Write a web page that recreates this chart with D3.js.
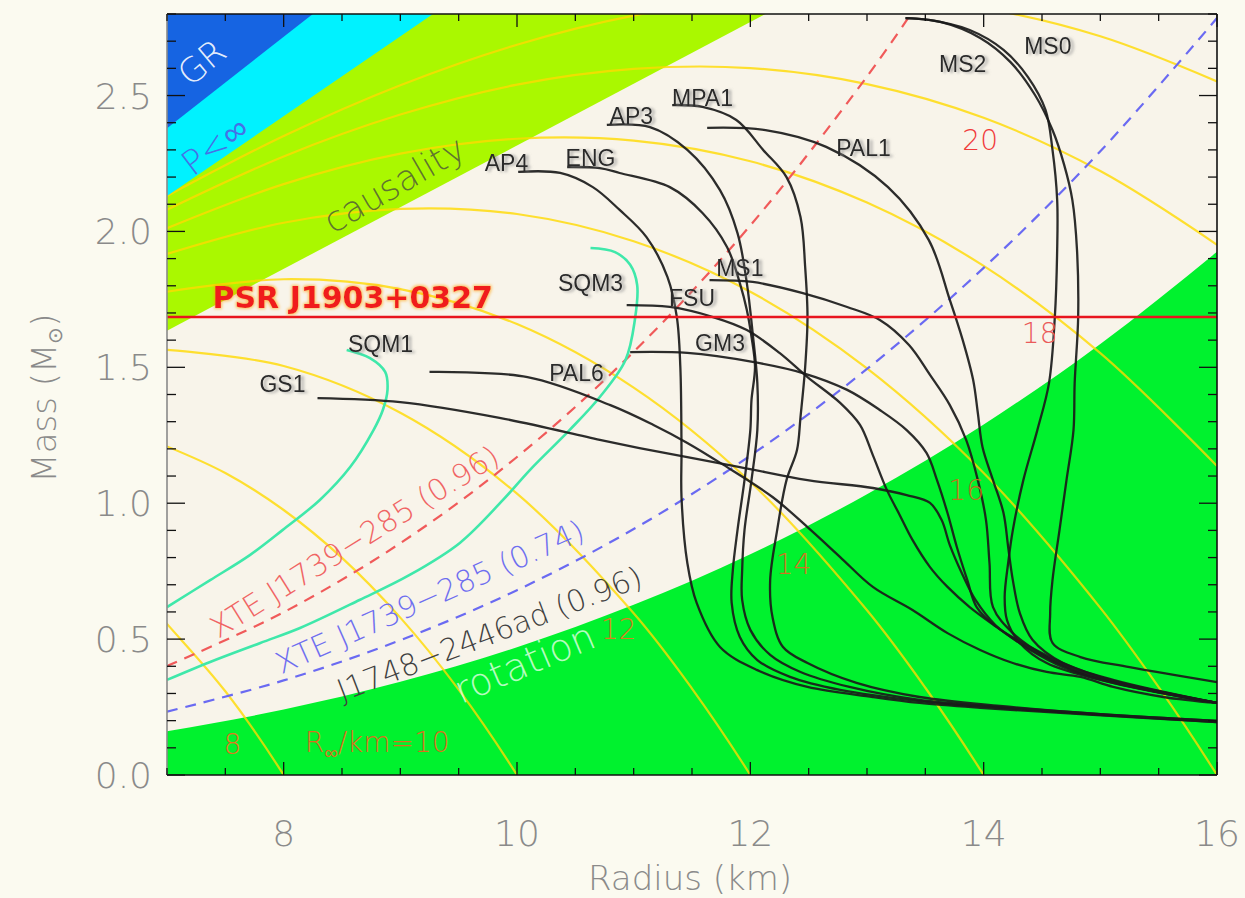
<!DOCTYPE html>
<html>
<head>
<meta charset="utf-8">
<script src="https://cdn.jsdelivr.net/npm/d3@7"></script>
<style>
  html, body { margin: 0; padding: 0; background: #fbfaf0; }
  svg { display: block; }
</style>
</head>
<body>
<svg id="chart" width="1245" height="898"></svg>
<script>
// ---------------- data ----------------
const radiusTicks = [8, 10, 12, 14, 16];
const massTicks = [0, 0.5, 1.0, 1.5, 2.0, 2.5];

// excluded regions, boundaries as [radius km, mass Msun]
const grLimit = [[7, 2.38], [8.25, 2.8]];
const finitePressureLimit = [[7, 2.13], [9.28, 2.8]];
const causalityLimit = [[7, 1.635], [12.13, 2.8]];
const rotationLimit = [[7, 0.161], [8, 0.241], [9, 0.343], [10, 0.470], [11, 0.626], [12, 0.812], [13, 1.033], [14, 1.290], [15, 1.586], [16, 1.925]];

// spin limits
const xteSpin096 = [[7, 0.401], [8, 0.599], [9, 0.853], [10, 1.170], [11, 1.557], [12, 2.022], [13, 2.570], [13.4, 2.815]];
const xteSpin074 = [[7, 0.233], [8, 0.348], [9, 0.496], [10, 0.680], [11, 0.905], [12, 1.175], [13, 1.494], [14, 1.866], [15, 2.295], [16, 2.785]];

// pulsar mass
const psrMass = 1.685;

// lines of constant R_inf (km)
const rInf8 = [[6.5, 0.795], [7, 0.556], [7.5, 0.308], [8, 0], [8.5, -0.371]];
const rInf10 = [[7, 1.209], [7.5, 1.111], [8, 0.975], [8.5, 0.799], [9, 0.579], [9.5, 0.314], [10, 0], [10.5, -0.364]];
const rInf12 = [[7, 1.564], [8, 1.505], [9, 1.333], [10, 1.035], [11, 0.595], [11.5, 0.318], [12, 0], [12.5, -0.360]];
const rInf14 = [[7, 1.778], [8, 1.824], [9, 1.788], [10, 1.659], [11, 1.425], [12, 1.078], [13, 0.606], [13.5, 0.321], [14, 0], [14.5, -0.357]];
const rInf16 = [[7, 1.917], [8, 2.032], [9, 2.083], [10, 2.064], [11, 1.964], [12, 1.778], [13, 1.496], [14, 1.111], [15, 0.615], [15.5, 0.323], [16, 0], [16.5, -0.355]];
const rInf18 = [[7, 2.012], [8, 2.174], [9, 2.286], [10, 2.341], [11, 2.334], [12, 2.258], [13, 2.106], [14, 1.873], [15, 1.552], [16, 1.137]];
const rInf20 = [[7, 2.080], [8, 2.276], [9, 2.430], [10, 2.540], [11, 2.598], [12, 2.601], [13, 2.542], [14, 2.418], [15, 2.222], [16, 1.951]];
const rInf22 = [[7, 2.130], [8, 2.351], [9, 2.538], [10, 2.687], [11, 2.794], [12, 2.855], [13, 2.865], [14, 2.821], [15, 2.718], [16, 2.552]];

// mass-radius relations
const AP4 = [[10.01, 2.219], [10.37, 2.215], [10.65, 2.163], [10.88, 2.079], [11.11, 1.979], [11.29, 1.832], [11.37, 1.685], [11.40, 1.501], [11.41, 1.196], [11.41, 1.023], [11.46, 0.780], [11.54, 0.633], [11.74, 0.471], [12.06, 0.386], [12.49, 0.324], [13.05, 0.287], [13.45, 0.265], [13.97, 0.247], [14.83, 0.224], [16.0, 0.195]];
const ENG = [[10.43, 2.237], [10.71, 2.233], [10.88, 2.215], [11.31, 2.163], [11.59, 2.068], [11.80, 1.943], [11.91, 1.810], [11.97, 1.711], [12.01, 1.612], [12.04, 1.501], [12.01, 1.380], [12.00, 1.269], [11.95, 1.085], [11.89, 0.901], [11.85, 0.754], [11.84, 0.633], [11.91, 0.508], [12.06, 0.423], [12.34, 0.361], [12.77, 0.313], [13.45, 0.272], [14.14, 0.247], [15.00, 0.221], [16.0, 0.195]];
const AP3 = [[10.77, 2.392], [11.14, 2.384], [11.46, 2.300], [11.74, 2.152], [11.89, 1.994], [11.97, 1.810], [12.02, 1.626], [12.06, 1.442], [12.06, 1.269], [12.01, 1.085], [11.95, 0.901], [11.93, 0.754], [11.93, 0.644], [12.00, 0.534], [12.17, 0.442], [12.43, 0.379], [12.85, 0.324], [13.45, 0.276], [14.14, 0.250], [15.00, 0.224], [16.0, 0.199]];
const MPA1 = [[11.33, 2.465], [11.59, 2.458], [11.88, 2.410], [12.11, 2.300], [12.31, 2.200], [12.43, 2.053], [12.47, 1.869], [12.49, 1.685], [12.47, 1.501], [12.43, 1.317], [12.40, 1.196], [12.31, 1.085], [12.23, 0.901], [12.17, 0.717], [12.19, 0.581], [12.28, 0.471], [12.49, 0.412], [12.91, 0.339], [13.45, 0.287], [14.14, 0.254], [15.00, 0.224], [16.0, 0.199]];
const PAL1 = [[11.63, 2.381], [12.13, 2.373], [12.65, 2.311], [13.18, 2.163], [13.53, 1.968], [13.71, 1.748], [13.82, 1.601], [13.91, 1.453], [13.95, 1.332], [13.99, 1.207], [14.08, 1.085], [14.17, 0.964], [14.21, 0.839], [14.25, 0.717], [14.31, 0.596], [14.42, 0.497], [14.68, 0.412], [15.11, 0.350], [16.0, 0.265]];
const MS1 = [[11.65, 1.821], [12.02, 1.814], [12.45, 1.773], [12.83, 1.722], [13.11, 1.674], [13.36, 1.582], [13.54, 1.472], [13.71, 1.361], [13.85, 1.233], [13.95, 1.085], [14.02, 0.938], [14.05, 0.780], [14.08, 0.618], [14.25, 0.522], [14.54, 0.434], [14.83, 0.375], [15.40, 0.313], [16.0, 0.265]];
const FSU = [[10.94, 1.729], [11.31, 1.722], [11.68, 1.685], [11.97, 1.637], [12.25, 1.553], [12.49, 1.464], [12.77, 1.369], [12.94, 1.288], [13.05, 1.177], [13.17, 1.049], [13.28, 0.957], [13.39, 0.865], [13.54, 0.765], [13.69, 0.692], [13.88, 0.618], [14.11, 0.545], [14.40, 0.460], [14.68, 0.397], [15.11, 0.339], [16.0, 0.265]];
const GM3 = [[10.97, 1.556], [11.46, 1.553], [12.02, 1.520], [12.45, 1.479], [12.83, 1.417], [13.11, 1.343], [13.34, 1.269], [13.51, 1.185], [13.60, 1.085], [13.69, 0.964], [13.77, 0.839], [13.86, 0.717], [13.94, 0.618], [14.11, 0.545], [14.40, 0.471], [14.68, 0.412], [15.11, 0.346], [16.0, 0.265]];
const GS1 = [[8.29, 1.387], [9.00, 1.372], [9.85, 1.314], [10.71, 1.233], [11.05, 1.203], [11.91, 1.133], [12.49, 1.085], [13.05, 1.056], [13.34, 1.030], [13.54, 1.001], [13.64, 0.938], [13.71, 0.846], [13.82, 0.736], [13.93, 0.644], [14.10, 0.552], [14.31, 0.486], [14.68, 0.405], [15.11, 0.346], [16.0, 0.265]];
const PAL6 = [[9.25, 1.483], [10.09, 1.464], [10.80, 1.361], [11.17, 1.288], [11.46, 1.222], [11.77, 1.141], [12.19, 1.023], [12.49, 0.912], [12.77, 0.802], [13.05, 0.692], [13.39, 0.607], [13.69, 0.522], [13.97, 0.460], [14.25, 0.412], [14.54, 0.379], [14.83, 0.361], [15.11, 0.324], [15.54, 0.287], [16.0, 0.265]];
const MS2 = [[13.33, 2.785], [13.53, 2.778], [13.88, 2.741], [14.17, 2.668], [14.38, 2.568], [14.53, 2.447], [14.59, 2.300], [14.63, 2.116], [14.63, 1.932], [14.61, 1.685], [14.56, 1.442], [14.46, 1.269], [14.34, 1.085], [14.25, 0.901], [14.21, 0.780], [14.18, 0.655], [14.20, 0.570], [14.31, 0.486], [14.54, 0.412], [15.00, 0.350], [16.0, 0.265]];
const MS0 = [[13.33, 2.785], [13.63, 2.771], [13.97, 2.712], [14.23, 2.623], [14.44, 2.502], [14.59, 2.373], [14.69, 2.245], [14.76, 2.116], [14.80, 1.932], [14.81, 1.685], [14.78, 1.442], [14.77, 1.269], [14.71, 1.085], [14.65, 0.901], [14.59, 0.717], [14.57, 0.596], [14.59, 0.486], [14.83, 0.434], [15.25, 0.397], [16.0, 0.342]];
const SQM1 = [[8.54, 1.564], [8.74, 1.534], [8.87, 1.483], [8.89, 1.417], [8.85, 1.343], [8.77, 1.269], [8.57, 1.133], [8.31, 1.012], [7.99, 0.901], [7.71, 0.809], [7.37, 0.717], [7.00, 0.618]];
const SQM3 = [[10.63, 1.939], [10.84, 1.924], [10.97, 1.877], [11.03, 1.803], [11.01, 1.674], [10.93, 1.527], [10.71, 1.391], [10.45, 1.269], [10.11, 1.122], [9.88, 1.012], [9.51, 0.854], [9.08, 0.736], [8.65, 0.644], [8.14, 0.541], [7.80, 0.486], [7.37, 0.416], [7.00, 0.350]];

// ---------------- drawing ----------------
const svg = d3.select('#chart');
const W = 1245, H = 898;
const x = d3.scaleLinear().domain([7, 16]).range([167, 1217]);
const y = d3.scaleLinear().domain([0, 2.8]).range([775, 14]);
const thin = "'DejaVu Sans', 'Noto Sans', sans-serif";
const sans = "'Liberation Sans', Arial, sans-serif";

svg.append('rect').attr('width', W).attr('height', H).attr('fill', '#fbfaf0');

const defs = svg.append('defs');
defs.append('clipPath').attr('id', 'plotClip')
  .append('rect').attr('x', x(7)).attr('y', y(2.8))
  .attr('width', x(16) - x(7)).attr('height', y(0) - y(2.8));

// soft grey shadow behind the EOS names
const shadow = defs.append('filter').attr('id', 'labelShadow')
  .attr('x', '-20%').attr('y', '-50%').attr('width', '150%').attr('height', '200%');
shadow.append('feGaussianBlur').attr('in', 'SourceAlpha').attr('stdDeviation', 1.8).attr('result', 'blur');
shadow.append('feOffset').attr('in', 'blur').attr('dx', 3).attr('dy', 1).attr('result', 'off');
shadow.append('feFlood').attr('flood-color', '#8e8e8e').attr('flood-opacity', 0.75).attr('result', 'col');
shadow.append('feComposite').attr('in', 'col').attr('in2', 'off').attr('operator', 'in').attr('result', 'sh');
const sm = shadow.append('feMerge');
sm.append('feMergeNode').attr('in', 'sh');
sm.append('feMergeNode').attr('in', 'SourceGraphic');

// orange glow round the pulsar name
const glow = defs.append('filter').attr('id', 'glow')
  .attr('x', '-10%').attr('y', '-50%').attr('width', '120%').attr('height', '200%');
glow.append('feMorphology').attr('in', 'SourceAlpha').attr('operator', 'dilate').attr('radius', 1.2).attr('result', 'dil');
glow.append('feGaussianBlur').attr('in', 'dil').attr('stdDeviation', 1.6).attr('result', 'blur');
glow.append('feFlood').attr('flood-color', '#ff9c00').attr('flood-opacity', 0.6).attr('result', 'col');
glow.append('feComposite').attr('in', 'col').attr('in2', 'blur').attr('operator', 'in').attr('result', 'gl');
const gm = glow.append('feMerge');
gm.append('feMergeNode').attr('in', 'gl');
gm.append('feMergeNode').attr('in', 'SourceGraphic');

const plot = svg.append('g').attr('clip-path', 'url(#plotClip)');

// plot background
plot.append('rect').attr('x', x(7)).attr('y', y(2.8))
  .attr('width', x(16) - x(7)).attr('height', y(0) - y(2.8)).attr('fill', '#f8f4ea');

const line = d3.line().x(d => x(d[0])).y(d => y(d[1]));
const smooth = d3.line().x(d => x(d[0])).y(d => y(d[1])).curve(d3.curveCatmullRom.alpha(0.5));

// region above a straight boundary, closed through the top-left corner
function upperRegion(b) {
  return line([[b[0][0], b[0][1]], [b[1][0], b[1][1]], [7, 2.8]]);
}

// causality
plot.append('path').attr('d', upperRegion(causalityLimit)).attr('fill', '#aaf800');

// rotation
const rotArea = d3.area().x(d => x(d[0])).y0(y(0)).y1(d => y(d[1])).curve(d3.curveMonotoneX);
plot.append('path').attr('d', rotArea(rotationLimit)).attr('fill', '#00f22e');

// constant R_inf lines
const rInfLines = [rInf8, rInf10, rInf12, rInf14, rInf16, rInf18, rInf20, rInf22];
plot.selectAll('path.rinf').data(rInfLines).join('path')
  .attr('class', 'rinf')
  .attr('d', d => smooth(d))
  .attr('fill', 'none')
  .attr('stroke', '#ffda00')
  .attr('stroke-opacity', 0.8)
  .attr('stroke-width', 2.2);

// finite pressure and GR
plot.append('path').attr('d', upperRegion(finitePressureLimit)).attr('fill', '#00f2ff');
plot.append('path').attr('d', upperRegion(grLimit)).attr('fill', '#1664e2');

// spin limits (dashed)
plot.append('path').attr('d', smooth(xteSpin096)).attr('fill', 'none')
  .attr('stroke', '#f05a5a').attr('stroke-width', 2.2).attr('stroke-dasharray', '11,8');
plot.append('path').attr('d', smooth(xteSpin074)).attr('fill', 'none')
  .attr('stroke', '#6a6af2').attr('stroke-width', 2.2).attr('stroke-dasharray', '11,8');

// strange quark matter stars
plot.selectAll('path.sqm').data([SQM1, SQM3]).join('path')
  .attr('class', 'sqm')
  .attr('d', d => smooth(d))
  .attr('fill', 'none').attr('stroke', '#3fe8aa').attr('stroke-width', 2.6);

// normal matter EOS
const eosList = [AP4, ENG, AP3, MPA1, PAL1, MS1, FSU, GM3, GS1, PAL6, MS2, MS0];
plot.selectAll('path.eos').data(eosList).join('path')
  .attr('class', 'eos')
  .attr('d', d => smooth(d))
  .attr('fill', 'none').attr('stroke', '#1a1a1a').attr('stroke-width', 2.3)
  .attr('stroke-opacity', 0.92);

// pulsar line
plot.append('line')
  .attr('x1', x(7)).attr('x2', x(16)).attr('y1', y(psrMass)).attr('y2', y(psrMass))
  .attr('stroke', '#e8141e').attr('stroke-width', 2.6);

// ---------------- annotations ----------------
const ann = svg.append('g').attr('clip-path', 'url(#plotClip)');

function rotatedText(txt, R, M, angle, size, color, opts = {}) {
  return ann.append('text')
    .attr('transform', `translate(${x(R)},${y(M)}) rotate(${-angle})`)
    .attr('font-family', opts.family || thin)
    .attr('font-weight', opts.weight || 300)
    .attr('font-size', size)
    .attr('fill', color)
    .attr('fill-opacity', opts.opacity == null ? 1 : opts.opacity)
    .text(txt);
}

rotatedText('GR', 7.2, 2.53, 40, 34, '#ffffff', {opacity: 0.9});
rotatedText('P<\u221E', 7.22, 2.20, 37, 34, '#4670e6');
rotatedText('causality', 8.42, 1.99, 30, 35, '#556235', {opacity: 0.9});
rotatedText('rotation', 9.52, 0.26, 23, 38, '#eaffea', {opacity: 0.8});
rotatedText('XTE J1739\u2212285 (0.96)', 7.44, 0.50, 32, 30, '#f06464');
rotatedText('XTE J1739\u2212285 (0.74)', 7.98, 0.37, 24, 30, '#6e6ef0');
rotatedText('J1748\u22122446ad (0.96)', 8.5, 0.27, 21, 30, '#404040');

// constant R_inf labels
function rLabel(txt, R, M, size, color) {
  ann.append('text').attr('x', x(R)).attr('y', y(M))
    .attr('text-anchor', 'middle').attr('font-family', thin).attr('font-weight', 300)
    .attr('font-size', size).attr('fill', color).text(txt);
}
rLabel('8', 7.56, 0.076, 28, '#de7a1e');
rLabel('12', 10.87, 0.50, 28, '#d8801e');
rLabel('14', 12.37, 0.74, 28, '#d27420');
rLabel('16', 13.85, 1.01, 28, '#c0701c');
rLabel('18', 14.48, 1.59, 28, '#ea5a5a');
rLabel('20', 13.97, 2.30, 28, '#f03a3a');
const rlab = ann.append('text').attr('x', x(8.18)).attr('y', y(0.085))
  .attr('font-family', thin).attr('font-weight', 300).attr('font-size', 28).attr('fill', '#dc6e1e');
rlab.append('tspan').text('R');
rlab.append('tspan').attr('font-size', 19).attr('dy', 7).text('\u221E');
rlab.append('tspan').attr('dy', -7).text('/km=10');

// pulsar label
ann.append('text').attr('x', x(7.39)).attr('y', y(1.718))
  .attr('font-family', "'DejaVu Sans', sans-serif").attr('font-weight', 'bold').attr('font-size', 30)
  .attr('fill', '#f01e1e').attr('filter', 'url(#glow)').text('PSR J1903+0327');

// EOS names
const eosNames = ['GS1', 'SQM1', 'PAL6', 'SQM3', 'FSU', 'GM3', 'MS1', 'AP4', 'ENG', 'AP3', 'MPA1', 'PAL1', 'MS2', 'MS0'];
const eosNameAt = [[7.99, 1.409], [8.83, 1.556], [10.51, 1.450], [10.63, 1.781], [11.50, 1.726], [11.74, 1.560], [11.91, 1.836], [9.91, 2.222], [10.63, 2.241], [10.98, 2.395], [11.59, 2.461], [12.97, 2.278], [13.82, 2.587], [14.55, 2.653]];
eosNames.forEach((name, i) => {
  const [R, M] = eosNameAt[i];
  ann.append('text').attr('x', x(R)).attr('y', y(M))
    .attr('text-anchor', 'middle').attr('font-family', sans).attr('font-size', 23)
    .attr('fill', '#2a2a2a').attr('filter', 'url(#labelShadow)').text(name);
});

// ---------------- frame and ticks ----------------
const frame = svg.append('g');
frame.append('line').attr('x1', x(7)).attr('x2', x(16)).attr('y1', y(0)).attr('y2', y(0)).attr('stroke', '#111').attr('stroke-width', 1.6);
frame.append('line').attr('x1', x(7)).attr('x2', x(16)).attr('y1', y(2.8)).attr('y2', y(2.8)).attr('stroke', '#111').attr('stroke-width', 1.6);
frame.append('line').attr('x1', x(16)).attr('x2', x(16)).attr('y1', y(0)).attr('y2', y(2.8)).attr('stroke', '#111').attr('stroke-width', 1.6);
frame.append('line').attr('x1', x(7)).attr('x2', x(7)).attr('y1', y(0)).attr('y2', y(2.8)).attr('stroke', '#8a8a8a').attr('stroke-width', 1.6);

const xMinor = d3.range(7, 16.001, 0.5);
const yMinor = d3.range(0, 2.8001, 0.1);
const isMajorX = v => radiusTicks.some(t => Math.abs(t - v) < 1e-6);
const isMajorY = v => Math.abs(v * 2 - Math.round(v * 2)) < 1e-6;

xMinor.forEach(v => {
  const L = isMajorX(v) ? 13 : 7;
  frame.append('line').attr('x1', x(v)).attr('x2', x(v)).attr('y1', y(0)).attr('y2', y(0) - L).attr('stroke', '#111').attr('stroke-width', 1.3);
  frame.append('line').attr('x1', x(v)).attr('x2', x(v)).attr('y1', y(2.8)).attr('y2', y(2.8) + L).attr('stroke', '#111').attr('stroke-width', 1.3);
});
yMinor.forEach(v => {
  const L = isMajorY(v) ? 18 : 9;
  frame.append('line').attr('x1', x(7)).attr('x2', x(7) + L).attr('y1', y(v)).attr('y2', y(v)).attr('stroke', '#111').attr('stroke-width', 1.3);
  frame.append('line').attr('x1', x(16)).attr('x2', x(16) - L).attr('y1', y(v)).attr('y2', y(v)).attr('stroke', '#111').attr('stroke-width', 1.3);
});

// tick labels
const labels = svg.append('g').attr('font-family', thin).attr('font-weight', 200).attr('fill', '#8a8a8a');
radiusTicks.forEach(v => {
  labels.append('text').attr('x', x(v)).attr('y', 846).attr('text-anchor', 'middle')
    .attr('font-size', 36).text(d3.format('d')(v));
});
massTicks.forEach(v => {
  labels.append('text').attr('x', 152).attr('y', y(v) + 13).attr('text-anchor', 'end')
    .attr('font-size', 36).text(d3.format('.1f')(v));
});
labels.append('text').attr('x', 690).attr('y', 890).attr('text-anchor', 'middle')
  .attr('font-size', 34).text('Radius (km)');
const yl = labels.append('text').attr('transform', 'translate(56,398) rotate(-90)')
  .attr('text-anchor', 'middle').attr('font-size', 34);
yl.append('tspan').text('Mass (M');
yl.append('tspan').attr('font-size', 20).attr('dy', 6).text('\u2299');
yl.append('tspan').attr('dy', -6).text(')');
</script>
</body>
</html>
